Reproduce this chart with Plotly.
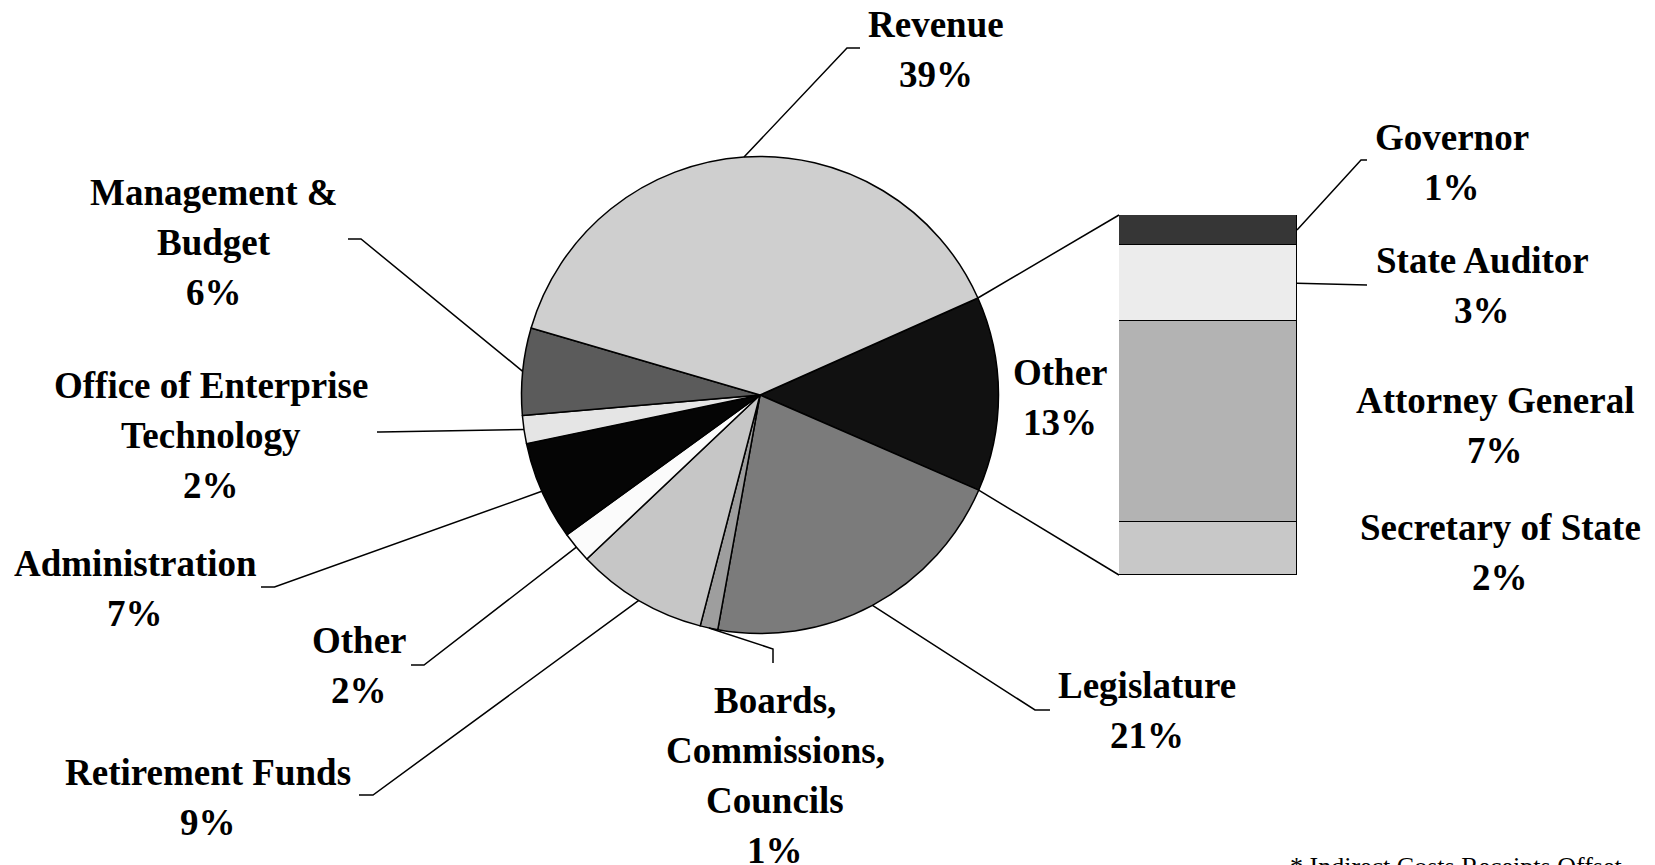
import math
import plotly.graph_objects as go

# ---------------- data ----------------
pie_categories = ["Other", "Legislature", "Boards, Commissions, Councils", "Retirement Funds",
                  "Other", "Administration", "Office of Enterprise Technology",
                  "Management & Budget", "Revenue"]
pie_values = [13.2, 21.3, 1.2, 8.9, 2.1, 6.7, 1.9, 5.9, 38.8]
pie_label_lines = [["Other"], ["Legislature"], ["Boards,", "Commissions,", "Councils"],
                   ["Retirement Funds"], ["Other"], ["Administration"],
                   ["Office of Enterprise", "Technology"], ["Management &", "Budget"], ["Revenue"]]

bar_categories = ["Secretary of State", "Attorney General", "State Auditor", "Governor"]
bar_values = [1.95, 7.35, 2.8, 1.1]
bar_label_lines = [["Secretary of State"], ["Attorney General"], ["State Auditor"], ["Governor"]]

footnote = "* Indirect Costs Receipts Offset"

# ---------------- style / layout ----------------
W, H = 1655, 865
pie_colors = ["#111111", "#7b7b7b", "#9e9e9e", "#c6c6c6", "#fbfbfb", "#050505",
              "#e5e5e5", "#5b5b5b", "#cfcfcf"]
bar_colors = ["#c8c8c8", "#b3b3b3", "#ececec", "#363636"]

PIE_CX, PIE_CY, PIE_R = 760, 395, 238.5
ROT = 66
BAR_X0, BAR_X1, BAR_TOP, BAR_BOT = 1119, 1297, 215, 575

FONT = "Liberation Serif"
FS = 37
LS = 50
MID = 0.3375 * FS

# label placement: (center x, first baseline y, elbow, tick end)
pie_label_pos = [
    (1060, 385, None, None),
    (1147, 698, (1035, 710), (1050, 710)),
    (775, 713, (773, 649), (773, 663)),
    (208, 785, (373, 795), (359, 795)),
    (359, 653, (424, 665), (411, 665)),
    (135, 576, (274.5, 587), (261, 587)),
    (211, 398, (380, 432), (377, 432)),
    (214, 205, (361, 239), (348, 239)),
    (936, 37, (847, 48), (860, 48)),
]
bar_label_pos = [
    (1500, 540, None, None),
    (1495, 413, None, None),
    (1482, 273, (1367, 285), (1367, 285)),
    (1452, 150, (1361, 160), (1367, 160)),
]


def px(x):
    return x / W


def py(y):
    return 1 - y / H


fig = go.Figure()

fig.add_trace(go.Pie(
    values=pie_values,
    labels=[f"{c} [{i}]" for i, c in enumerate(pie_categories)],
    hovertext=pie_categories,
    sort=False, direction="clockwise", rotation=ROT,
    marker=dict(colors=pie_colors, line=dict(color="black", width=1.5)),
    textinfo="none", hoverinfo="text+percent",
    domain=dict(x=[px(PIE_CX - PIE_R), px(PIE_CX + PIE_R)],
                y=[py(PIE_CY + PIE_R), py(PIE_CY - PIE_R)]),
    showlegend=False,
))

bar_total = sum(bar_values)
for cat, val, col in zip(bar_categories, bar_values, bar_colors):
    fig.add_trace(go.Bar(
        x=[0], y=[val], name=cat, marker=dict(color=col, line=dict(color="black", width=1.5)),
        width=1, showlegend=False, xaxis="x", yaxis="y", hovertext=[cat], hoverinfo="text+y",
    ))

# ---- geometry from data ----
total = sum(pie_values)
spans = []
a = 90 - ROT
for v in pie_values:
    s = v / total * 360
    spans.append((a, a - s))
    a -= s


def edge(theta):
    t = math.radians(theta)
    return PIE_CX + PIE_R * math.cos(t), PIE_CY - PIE_R * math.sin(t)


def bar_y(v):
    return BAR_BOT - (BAR_BOT - BAR_TOP) * v / bar_total


shapes = []
ann = []


def path_shape(pts):
    d = "M " + " L ".join(f"{px(x):.5f},{py(y):.5f}" for x, y in pts)
    return dict(type="path", path=d, xref="paper", yref="paper",
                line=dict(color="black", width=1.5))


def add_label(lines, pct, cx, base):
    allines = list(lines) + [f"{round(pct)}%"]
    for k, t in enumerate(allines):
        ann.append(dict(text=f"<b>{t}</b>", x=px(cx), y=py(base + k * LS - MID),
                        xref="paper", yref="paper", xanchor="center", yanchor="middle",
                        showarrow=False, font=dict(family=FONT, size=FS, color="black")))


# connector lines pie -> bar
p_top = edge(spans[0][0])
p_bot = edge(spans[0][1])
shapes.append(path_shape([p_top, (BAR_X0, bar_y(bar_total))]))
shapes.append(path_shape([p_bot, (BAR_X0, bar_y(0))]))

for i, (lines, v) in enumerate(zip(pie_label_lines, pie_values)):
    cx, base, elbow, tick = pie_label_pos[i]
    add_label(lines, v, cx, base)
    if elbow is not None:
        mid = (spans[i][0] + spans[i][1]) / 2
        shapes.append(path_shape([edge(mid), elbow, tick]))

cum = 0
for i, (lines, v) in enumerate(zip(bar_label_lines, bar_values)):
    cx, base, elbow, tick = bar_label_pos[i]
    add_label(lines, v, cx, base)
    if elbow is not None:
        ym = bar_y(cum + v / 2)
        shapes.append(path_shape([(BAR_X1, ym), elbow, tick]))
    cum += v

ann.append(dict(text=footnote, x=px(1288), y=py(875 - 0.3375 * 26), xref="paper", yref="paper",
                xanchor="left", yanchor="middle", showarrow=False,
                font=dict(family=FONT, size=26, color="black")))

fig.update_layout(
    width=W, height=H, margin=dict(l=0, r=0, t=0, b=0),
    paper_bgcolor="white", plot_bgcolor="white",
    barmode="stack", bargap=0,
    xaxis=dict(domain=[px(BAR_X0), px(BAR_X1)], range=[-0.5, 0.5], visible=False, fixedrange=True),
    yaxis=dict(domain=[py(BAR_BOT), py(BAR_TOP)], range=[0, bar_total], visible=False, fixedrange=True),
    shapes=shapes, annotations=ann,
)

fig.write_html("out.html", config={"displayModeBar": False},
               post_script="document.body.style.margin='0';document.body.style.overflow='hidden';")
